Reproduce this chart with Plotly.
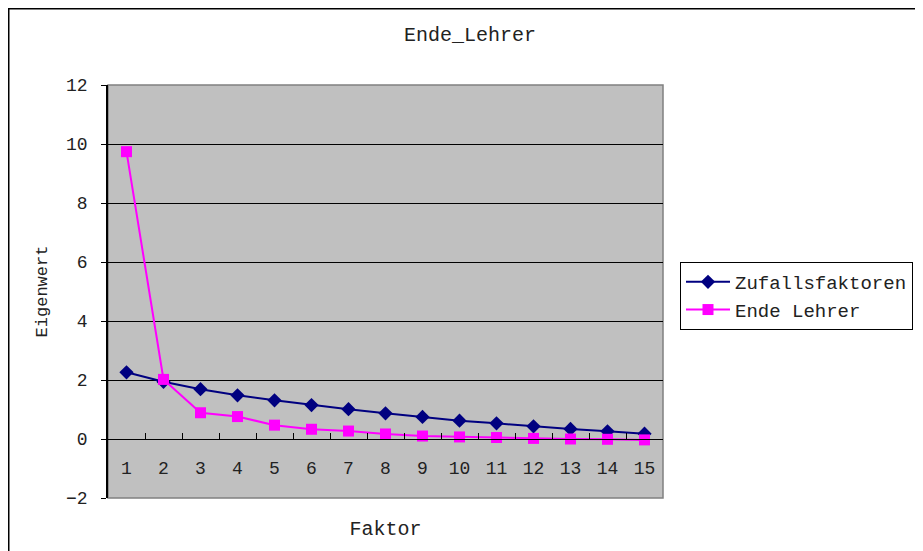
import plotly.graph_objects as go

faktoren = [str(i) for i in range(1, 16)]
zufall = [2.26, 1.94, 1.69, 1.48, 1.31, 1.15, 1.01, 0.87, 0.75, 0.62, 0.53, 0.43, 0.34, 0.26, 0.18]
ende_lehrer = [9.74, 2.02, 0.89, 0.76, 0.47, 0.33, 0.27, 0.17, 0.10, 0.07, 0.05, 0.02, 0.00, -0.01, -0.03]
y_ticks = [-2, 0, 2, 4, 6, 8, 10, 12]

FONT = "Liberation Mono"

OFF = 8  # page body margin
W, H = 923 - OFF, 551 - OFF
# plot area in viewport pixels
VL, VR, VT, VB = 108, 663, 85, 498
L, R, T, B = VL - OFF, VR - OFF, VT - OFF, VB - OFF
pw, ph = R - L, B - T

def px(vx):
    return (vx - OFF - L) / pw

def py(vy):
    return (B - (vy - OFF)) / ph

fig = go.Figure()
fig.add_trace(go.Scatter(
    x=faktoren, y=zufall, name="Zufallsfaktoren", mode="lines+markers",
    line=dict(color="#000080", width=2),
    marker=dict(symbol="diamond", size=11, color="#000080"),
))
fig.add_trace(go.Scatter(
    x=faktoren, y=ende_lehrer, name="Ende Lehrer", mode="lines+markers",
    line=dict(color="#FF00FF", width=2),
    marker=dict(symbol="square", size=11, color="#FF00FF"),
))

fig.update_layout(
    width=W, height=H,
    margin=dict(l=L, r=W - R, t=T, b=H - B, pad=0, autoexpand=False),
    paper_bgcolor="white",
    plot_bgcolor="#C0C0C0",
    font=dict(family=FONT, color="#000000", size=18),
    title=dict(text="Ende_Lehrer", font=dict(family=FONT, size=20, color="#222"),
               xref="container", x=(470 - OFF) / W, xanchor="center",
               yref="container", y=1 - (34 - OFF) / H, yanchor="middle"),
    showlegend=True,
    legend=dict(
        x=px(680), y=py(262), xanchor="left", yanchor="top",
        bordercolor="#000000", borderwidth=1, bgcolor="white",
        font=dict(family=FONT, size=19, color="#222"),
        itemwidth=44, tracegroupgap=0,
    ),
    xaxis=dict(
        type="category", range=[-0.5, 14.5],
        anchor="free", position=2 / 14,
        showline=True, linecolor="#000000", linewidth=1,
        ticks="inside", ticklen=6, tickcolor="#000000", tickson="boundaries",
        showgrid=False, zeroline=False,
        tickfont=dict(family=FONT, size=18, color="#222"),
        ticklabelstandoff=12,
        title=dict(text="Faktor", font=dict(family=FONT, size=20, color="#222"), standoff=43),
    ),
    yaxis=dict(
        range=[-2, 12], tickvals=y_ticks, domain=[0, 1],
        showline=True, linecolor="#000000", linewidth=1.5,
        ticks="outside", ticklen=5, tickcolor="#000000",
        showgrid=True, gridcolor="#000000", gridwidth=1,
        zeroline=False,
        tickfont=dict(family=FONT, size=18, color="#222"),
        ticklabelstandoff=10,
        title=dict(text="Eigenwert", font=dict(family=FONT, size=17, color="#222"), standoff=14),
    ),
    shapes=[
        dict(type="rect", xref="paper", yref="paper", x0=0, x1=1, y0=0, y1=1,
             line=dict(color="#808080", width=1.5), layer="below"),
        dict(type="rect", xref="paper", yref="paper",
             x0=px(OFF + 0.75), x1=px(960), y0=py(600), y1=py(OFF + 0.75),
             line=dict(color="#000000", width=1.5), layer="below"),
    ],
)

fig.write_html("out.html")
